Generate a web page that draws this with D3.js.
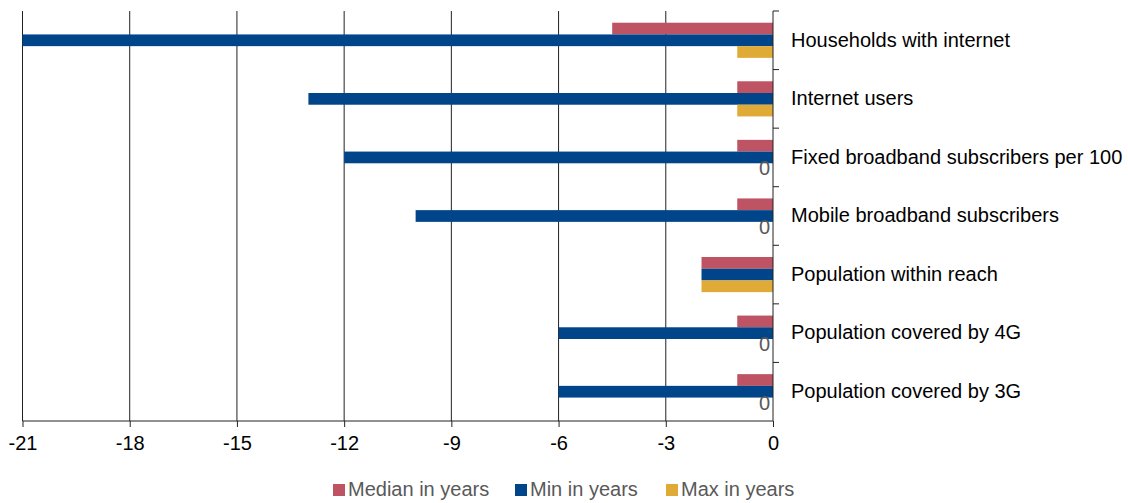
<!DOCTYPE html>
<html>
<head>
<meta charset="utf-8">
<script src="https://cdn.jsdelivr.net/npm/d3@7/dist/d3.min.js"></script>
<style>
  html, body { margin: 0; padding: 0; background: #fff; }
  svg { display: block; font-family: "Liberation Sans", Arial, sans-serif; }
</style>
</head>
<body>
<svg id="chart" width="1128" height="503"></svg>
<script>
// Indicators, top to bottom
const categories = [
  "Households with internet",
  "Internet users",
  "Fixed broadband subscribers per 100",
  "Mobile broadband subscribers",
  "Population within reach",
  "Population covered by 4G",
  "Population covered by 3G"
];
const seriesNames = ["Median in years", "Min in years", "Max in years"];
const medianYears = [-4.5, -1, -1, -1, -2, -1, -1];
const minYears    = [-21, -13, -12, -10, -2, -6, -6];
const maxYears    = [-1, -1, 0, 0, -2, 0, 0];
const xTicks = [-21, -18, -15, -12, -9, -6, -3, 0];
const colors = ["#BE5364", "#00448A", "#DFAA35"];

const series = [medianYears, minYears, maxYears];

const svg = d3.select("#chart");
const plotLeft = 22.5, plotRight = 773, plotTop = 11, plotBottom = 421;

const x = d3.scaleLinear().domain([-21, 0]).range([plotLeft, plotRight]);
const y = d3.scaleBand().domain(categories).range([plotTop, plotBottom]).padding(0);
const inner = d3.scaleBand().domain(seriesNames)
  .range([y.bandwidth() * 0.2, y.bandwidth() * 0.8]).padding(0);

// vertical gridlines
svg.append("g").selectAll("line").data(xTicks.filter(t => t !== 0)).join("line")
  .attr("x1", d => x(d)).attr("x2", d => x(d))
  .attr("y1", plotTop).attr("y2", plotBottom)
  .attr("stroke", "#222").attr("stroke-width", 1);

// bars
const rows = categories.map((c, i) => ({ c, vals: series.map((s, k) => ({ k, v: s[i] })) }));
const groups = svg.append("g").selectAll("g").data(rows).join("g")
  .attr("transform", d => `translate(0,${y(d.c)})`);
groups.selectAll("rect").data(d => d.vals.filter(o => o.v !== 0)).join("rect")
  .attr("x", o => x(Math.min(0, o.v)))
  .attr("width", o => Math.abs(x(o.v) - x(0)))
  .attr("y", o => inner(seriesNames[o.k]))
  .attr("height", inner.bandwidth())
  .attr("fill", o => colors[o.k]);

// labels for zero values
groups.selectAll("text.zero").data(d => d.vals.filter(o => o.v === 0)).join("text")
  .attr("class", "zero")
  .attr("x", o => x(o.v) - 3)
  .attr("y", o => inner(seriesNames[o.k]) + inner.bandwidth() / 2 + 1)
  .attr("text-anchor", "end")
  .attr("dominant-baseline", "middle")
  .attr("font-size", 20)
  .attr("fill", "#595959")
  .text(o => String(o.v));

// bottom axis
const xAxis = d3.axisBottom(x).tickValues(xTicks).tickSize(6).tickPadding(6).tickFormat(d => String(d));
const gx = svg.append("g").attr("transform", `translate(0,${plotBottom})`).call(xAxis);
gx.select(".domain").attr("stroke", "#222").attr("d", `M${plotLeft},0H${plotRight}`);
gx.selectAll(".tick line").attr("stroke", "#222");
gx.selectAll(".tick text").attr("font-size", 20).attr("fill", "#000")
  .attr("font-family", "Liberation Sans, Arial, sans-serif").attr("dy", "0.85em");

// right category axis
const ga = svg.append("g");
ga.append("line").attr("x1", plotRight).attr("x2", plotRight).attr("y1", plotTop).attr("y2", plotBottom)
  .attr("stroke", "#222");
const bounds = categories.map(c => y(c));
ga.selectAll("line.tk").data(bounds).join("line").attr("class", "tk")
  .attr("x1", plotRight).attr("x2", plotRight + 6).attr("y1", d => d).attr("y2", d => d)
  .attr("stroke", "#222");
ga.selectAll("text").data(categories).join("text")
  .attr("x", 791).attr("y", d => y(d) + y.bandwidth() / 2 + 1)
  .attr("dominant-baseline", "middle")
  .attr("font-size", 20).attr("fill", "#000")
  .text(d => d);

// legend
const legendX = [333, 515, 666];
const lg = svg.append("g").selectAll("g").data(seriesNames).join("g")
  .attr("transform", (d, i) => `translate(${legendX[i]},484)`);
lg.append("rect").attr("width", 12).attr("height", 12).attr("fill", (d, i) => colors[i]);
lg.append("text").attr("x", 15).attr("y", 7).attr("dominant-baseline", "middle")
  .attr("font-size", 20).attr("fill", "#595959").text(d => d);
</script>
</body>
</html>
